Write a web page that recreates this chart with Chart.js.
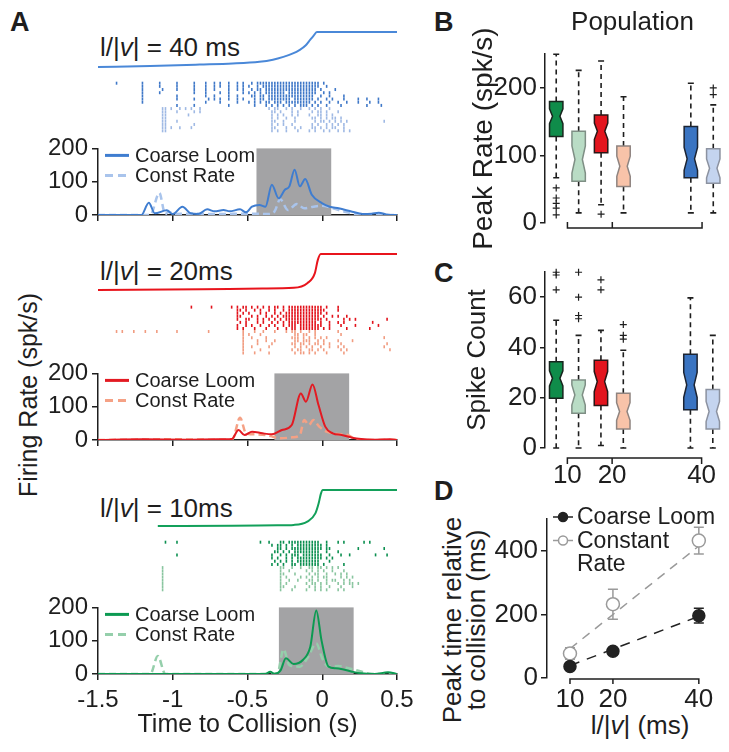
<!DOCTYPE html>
<html>
<head>
<meta charset="utf-8">
<script src="https://cdn.jsdelivr.net/npm/chart.js@4.4.0/dist/chart.umd.min.js"></script>
<style>
  body { margin: 0; background: #fff; }
  #fig { position: relative; width: 729px; height: 752px; overflow: hidden; background: #fff;
         font-family: "Liberation Sans", Arial, Helvetica, sans-serif; color: #1e1e1e; }
  #fig canvas { position: absolute; }
  .lbl { position: absolute; white-space: nowrap; line-height: 1; }
  .panel { font-weight: bold; font-size: 27px; }
  .stim { font-size: 26px; }
  .ytitle { font-size: 25px; transform: translate(-50%, -50%) rotate(-90deg); }
  .ytitle2 { font-size: 26px; line-height: 24px; text-align: center; transform: translate(-50%, -50%) rotate(-90deg); }
  .xtitle { font-size: 26px; transform: translate(-50%, -50%); }
</style>
</head>
<body>
<div id="fig">
  <div class="lbl panel" style="left:10px;top:9px">A</div>
  <div class="lbl panel" style="left:434px;top:9px">B</div>
  <div class="lbl panel" style="left:434px;top:260px">C</div>
  <div class="lbl panel" style="left:434px;top:478px">D</div>
  <div class="lbl stim" style="left:100px;top:34px">l/|<i>v</i>| = 40 ms</div>
  <div class="lbl stim" style="left:100px;top:258px">l/|<i>v</i>| = 20ms</div>
  <div class="lbl stim" style="left:100px;top:495px">l/|<i>v</i>| = 10ms</div>
  <div class="lbl ytitle" style="left:28px;top:395px">Firing Rate (spk/s)</div>
  <div class="lbl ytitle2" style="left:464px;top:620px">Peak time relative<br>to collision (ms)</div>
  <div class="lbl xtitle" style="left:640px;top:725px">l/|<i>v</i>| (ms)</div>
</div>
<script>
// ---------- panel A: stimulus traces (normalised angle vs time, s) ----------
const stim40T = [-1.5, -1.15, -0.82, -0.6, -0.42, -0.33, -0.26, -0.2, -0.15, -0.11, -0.08, -0.06, -0.036, 0.5];
const stim40V = [0, 0.03, 0.07, 0.1, 0.15, 0.21, 0.29, 0.38, 0.49, 0.62, 0.78, 0.88, 1, 1];
const stim20T = [-1.5, -0.8, -0.4, -0.19, -0.1, -0.05, -0.03, -0.01, 0.5];
const stim20V = [0, 0.02, 0.04, 0.06, 0.19, 0.46, 0.83, 1, 1];
const stim10T = [-1.1, -0.6, -0.3, -0.19, -0.1, -0.046, -0.024, -0.009, 0.004, 0.5];
const stim10V = [0, 0.01, 0.02, 0.03, 0.12, 0.35, 0.63, 0.9, 1, 1];

// ---------- panel A: rasters, one string per trial, 20 ms bins from -1.5 s ----------
const RASTER_T0 = -1.5, RASTER_BIN = 0.02;
const raster40Loom = [
  "....x..... ...x.....x .....x.... .x...x..x. x..x..x.x. .x.xxxxxxx xxxxxxxxxx xxxxx.x... .......... ..........",
  ".......... ...x.....x .....x.... .x...x..x. x..x..x.x. x..x.xxxxx xxxxxxxxxx xxxxx..x.. .......... ..........",
  ".......... ...x...... x....x.... .x...x..x. ...x..x.x. .x.xx.xxxx xxxxxxxxxx xxxx.x.... x......... ..........",
  ".......... ...x.....x .......... .x...x.... x..x....x. x.x.x.xxxx xxx.xxxxxx xxxx..x.x. .......... ..........",
  ".......... ...x...... .....x.... .....x..x. ...x..x... .xx.xx.xxx xxxxxxxxxx xxx..x..x. ...x...... ..........",
  ".......... ...x...... .....x.... .x....x.x. x..x..x.x. ..x.xx.xxx xxxxx.xxxx xxx.x..x.x ...x....x. .x...x....",
  ".......... ...x...... .......... .....x.... x.....x... x.x.x.xx.x xx.xxxxxxx xx.x.x..x. .x..x...x. ..x..x....",
  ".......... .......... .....x.... .x........ ...x...... ..x...x.x. x.x.x.x.xx x.x.x..x.. ..x....... .x....x..."
];
const raster40Const = [
  ".......... .......... xx.x..x.x. x..x...... .......... .......x.x x..x.x..x. .x.x.x..x. .......... ..........",
  ".......... .......... xx...x.... .x.x...... .......... ........xx .x...x.x.. ..x.xx.x.. .x........ ..........",
  ".......... .......... xx.......x .......... .......... ........x. x.x..x.x.. .x..xx.x.x .......... ..........",
  ".......... .......... xx........ .......... .......... ........x. x..x..x... ..xx.x.x.x x.x....... ..........",
  ".......... .......... xx...x.... .......... .......... ........xx ..x...x... ...x.xx.x. x.x.x..... .......x..",
  ".......... .......... xx........ .x........ .......... ........x. x.x..x.... ..x.x..x.x .x.x...... ..........",
  ".......... .......... xx.x..x... x......... .......... ........xx ...x..x.x. ..xx.x.x.x x..x...... ..........",
  ".......... .......... xx........ .......... .......... ........x. x..x...x.. .x.x..x.x. .x.x.x.... .........."
];
const raster20Loom = [
  ".......... .......... .......... x......x.. ....x.x.xx .x.x.x.x.x x.x.xxxxxx xxxxxx.x.. .x........ ..........",
  ".......... .......... .......... .......... ......xx.x ..x.x..x.x ..x.xxxxxx xxxxxxx... .x........ ..........",
  ".......... .......... .......... .......... ......x.x. x...x.x..x .x.xxxxxxx xxxxxx.x.. .......... ..........",
  ".......... .......... .......... .......... ......xx.. .x.x..x.x. x.xxxxxxxx xxxxx.x..x .x..x..... ..........",
  ".......... .......... .......... .......... ......x..x x..x.x.x.x .x.xxxxxxx xxxxxx.x.. ...x.x.x.. ........x.",
  ".......... .......... .......... .......... .......x.x ...x.x..x. x.x.xxxxxx xxxx.x..x. .x.x...... ...x......",
  ".......... .......... .......... .......... ......x..x .x..x..x.x ..x.xxx.xx xxxxxx..x. ..x....x.. .....x....",
  ".......... .......... .......... .......... ......x.x. ..x...x... x..x.xx.xx xxxxx.x.x. ....x..... ..x......."
];
const raster20Const = [
  "....x.x... x...x...x. .....x.... ......x... ........x. ..x..x...x ...x.xx.x. .x.x...... .x........ ..........",
  ".......... .......... .......... .......... ........x. x...x..... ......xx.x x..x...... ..x....... ..........",
  ".......... .......... .......... .......... ........x. .x....x... .....xxx.x .x.x.x.x.. .......... .......x..",
  ".......... .......... .......... .......... ........x. ...x..x..x ......xx.x xx..x.x... .x....x... ..........",
  ".......... .......... .......... .......... ........x. ...x....x. .....xx.xx .x.xx.x.x. ..x....... ........x.",
  ".......... .......... .......... .......... ........x. .x.....x.. ......x.x. x.x..x..x. .x.x...... .......x..",
  ".......... .......... .......... .......... ........x. ....x..... .....x.xx. .xx.x.x... ..x.x..... .........x",
  ".......... .......... .......... .......... ........x. ..x....x.. ......x.xx .x.x...x.. ...x...... .........."
];
const raster10Loom = [
  ".......... .......... .x...x.... .......... .......... ....x..x.. .xx.xxxxxx xxxxx..x.. .x.x...... x.x.......",
  ".......... .......... .......... .......... .......... ........x. xx.x.x.xxx xxxxxx.x.. .......... ..........",
  ".......... .......... .......... .......... .......... .......... xx.x.xxxxx xxxxxx.xx. ........x. .......x..",
  ".......... .......... .......... .......... .......... .........x x.x.x.xxxx xxxxx..x.. .x........ ..........",
  ".......... .......... .....x.... .......... .......... ........x. .x.x.xxx.x xxxxxx..x. ..x..x.... ....x...x.",
  ".......... .......... .......... .......... .......... ........x. x..x.x.xxx xxxxxx.x.x .......... ..........",
  ".......... .......... .......... .......... .......... .........x .x.x.x.xxx xxxxx...x. .......... ..........",
  ".......... .......... .......... .......... .......... ........x. x.x..xx.xx xxxxx.x... ...x...... .........."
];
const raster10Const = [
  ".......... .......... x......... .......... .......... .......... .xx..x..x. .xx.xx.x.x .x........ ..........",
  ".......... .......... x......... .......... .......... .......... .x..x..... x.x.x.x..x ...x...... ..........",
  ".......... .......... x......... .......... .......... .......... .xx...x... .x.xx..x.. x.x.x..... ..........",
  ".......... .......... x......... .......... .......... .......... .x.x....x. x.x.x.xx.. ..x.x.x... ..........",
  ".......... .......... x......... .......... .......... .......... .x..x..x.. .xx.x..x.x x..x.x.... ..........",
  ".......... .......... x......... .......... .......... .......... .x.x...... x.xx.x.x.. .x.x.xx.x. ..........",
  ".......... .......... x......... .......... .......... .......... .xx...x... .x.x.x..x. ..x...x... ..........",
  ".......... .......... x......... .......... .......... .......... .x...x.... x..x.x.x.. .x.x...... .........."
];

// ---------- panel A: firing rate (spk/s) vs time to collision (s) ----------
const loom40T  = [-1.5, -1.21, -1.16, -1.12, -1.04, -1.0, -0.935, -0.88, -0.83, -0.77, -0.72, -0.66, -0.62, -0.55, -0.51, -0.47, -0.42, -0.38, -0.337, -0.292, -0.25, -0.22, -0.185, -0.15, -0.114, -0.07, 0.0, 0.05, 0.11, 0.2, 0.27, 0.33, 0.377, 0.44, 0.5];
const loom40R  = [0, 0, 37, 5, 14, 3, 25, 5, 3, 17, 11, 15, 11, 17, 8, 25, 30, 25, 91, 50, 76, 86, 136, 86, 108, 61, 35, 25, 20, 10, 3, 4, 7, 1, 0];
const const40T = [-1.5, -1.15, -1.09, -1.05, -1.03, -0.99, -0.9, -0.7, -0.5, -0.36, -0.32, -0.281, -0.23, -0.17, -0.12, -0.06, 0.0, 0.07, 0.15, 0.22, 0.3, 0.5];
const const40R = [0, 0, 66, 2, 10, 3, 4, 3, 4, 3, 10, 47, 15, 33, 20, 25, 28, 20, 10, 3, 0, 0];
const loom20T  = [-1.5, -1.2, -0.9, -0.7, -0.605, -0.56, -0.52, -0.47, -0.4, -0.337, -0.27, -0.204, -0.143, -0.109, -0.065, -0.025, 0.02, 0.07, 0.13, 0.2, 0.26, 0.35, 0.45, 0.5];
const loom20R  = [0, 2, 1, 2, 3, 30, 15, 25, 20, 17, 30, 45, 140, 115, 167, 105, 40, 20, 15, 7, 3, 1, 2, 0];
const const20T = [-1.5, -1.0, -0.7, -0.6, -0.55, -0.51, -0.45, -0.38, -0.33, -0.29, -0.2, -0.15, -0.12, -0.09, -0.06, -0.02, 0.03, 0.07, 0.12, 0.17, 0.22, 0.3, 0.5];
const const20R = [0, 2, 1, 3, 67, 20, 17, 15, 10, 5, 8, 15, 60, 45, 60, 40, 25, 20, 17, 15, 3, 0, 1];
const loom10T  = [-1.5, -0.5, -0.38, -0.348, -0.32, -0.28, -0.243, -0.192, -0.13, -0.08, -0.04, -0.005, 0.042, 0.09, 0.135, 0.2, 0.26, 0.35, 0.44, 0.5];
const loom10R  = [0, 0, 0, 7, 0, 10, 47, 30, 42, 82, 191, 101, 22, 17, 14, 7, 2, 0, 5, 0];
const const10T = [-1.5, -1.15, -1.1, -1.05, -1.0, -0.5, -0.3, -0.259, -0.22, -0.15, -0.1, -0.04, 0.0, 0.045, 0.11, 0.176, 0.266, 0.33, 0.5];
const const10R = [0, 0, 54, 0, 0, 0, 2, 74, 27, 22, 47, 92, 47, 22, 24, 17, 7, 0, 0];
const windowStart = [-0.44, -0.32, -0.29];
const windowEnd   = [0.06, 0.18, 0.21];

// ---------- panels B / C: population box plots ----------
const lvValues = [10, 20, 40];
const boxGroups = ['Coarse Loom 10', 'Const Rate 10', 'Coarse Loom 20', 'Const Rate 20', 'Coarse Loom 40', 'Const Rate 40'];
const peakLo    = [67, 15, 27, 15, 15, 15];
const peakQ1    = [128, 62, 104, 54, 67, 59];
const peakMed   = [158, 94, 136, 84, 95, 81];
const peakQ3    = [180, 136, 160, 114, 143, 110];
const peakHi    = [250, 226, 240, 187, 207, 175];
const peakNotch = [11, 20, 12, 15, 17, 14];
const peakOut   = [[267, 52, 37, 29, 22, 12], [], [278, 13], [], [], [200, 190]];
const countLo    = [0, 0, 1, 0, 0, 0];
const countQ1    = [19.8, 13.8, 16.9, 7.6, 15.2, 7.6];
const countMed   = [27.7, 21.1, 26.4, 14.5, 25.1, 14.5];
const countQ3    = [34.3, 27, 34.9, 21.8, 37.3, 23.3];
const countHi    = [50.8, 44.8, 46.8, 38.9, 59.7, 44.8];
const countNotch = [3, 4, 4, 3.5, 5, 4];
const countOut   = [[69.9, 68.8, 62.9], [69.9, 60, 52.7, 51.4], [66.9, 62.9], [49.1, 44.8, 43.3], [], []];

// ---------- panel D: peak time relative to collision (ms) ----------
const loomPeak  = [36, 84, 196];
const loomErr   = [8, 10, 23];
const constPeak = [77, 232, 432];
const constErr  = [18, 47, 42];
const loomFit   = [39, 194];
const constFit  = [92, 415];

// ---------- styling ----------
const FONT = '"Liberation Sans", Arial, Helvetica, sans-serif';
const INK = '#1e1e1e';
Chart.defaults.font.family = FONT;
Chart.defaults.color = INK;
Chart.defaults.animation = false;
Chart.defaults.plugins.legend.display = false;
Chart.defaults.plugins.tooltip.enabled = false;

const BLUE = { stim: '#4a88d8', loom: '#3f7dd0', cons: '#a9c4ec', rLoom: '#3f78c8', rCons: '#9fb9e4' };
const RED = { stim: '#e8141c', loom: '#e31a22', cons: '#f5a185', rLoom: '#e2121b', rCons: '#f19c80' };
const GREEN = { stim: '#13a05a', loom: '#0c9a52', cons: '#95cfab', rLoom: '#0b8f50', rCons: '#89c59f' };
const boxFill = ['#0f8c4a', '#b9dcc5', '#e3151e', '#f8c3a9', '#3a74c2', '#c4d4ef'];
const boxEdge = ['#17251d', '#7f8f85', '#2a1616', '#8f8480', '#1c2433', '#8c92a0'];

const fig = document.getElementById('fig');
const zip = (xs, ys) => xs.map((x, i) => ({ x: x, y: ys[i] }));
const axisLine = { display: true, color: INK, width: 1.5 };
const tickGrid = len => ({ display: true, drawOnChartArea: false, drawTicks: true, tickLength: len, color: INK, lineWidth: 1.5 });
const boxPos = boxGroups.map((g, i) => lvValues[Math.floor(i / 2)] + (i % 2 ? 2.5 : -2.5));

function canvasAt(left, top, w, h) {
  const c = document.createElement('canvas');
  c.width = w; c.height = h;
  c.style.left = left + 'px'; c.style.top = top + 'px';
  c.style.width = w + 'px'; c.style.height = h + 'px';
  fig.appendChild(c);
  return c;
}

function rasterPoints(rows, rowOffset) {
  const pts = [];
  rows.forEach((row, r) => {
    const bins = row.replace(/ /g, '');
    for (let i = 0; i < bins.length; i++) {
      if (bins[i] === 'x') pts.push({ x: RASTER_T0 + (i + 0.5) * RASTER_BIN, y: r + rowOffset });
    }
  });
  return pts;
}

// ---------- plugins ----------
const shadeWindow = {
  id: 'shadeWindow',
  beforeDatasetsDraw(chart, args, o) {
    const { ctx, scales: { x, y } } = chart;
    const x0 = x.getPixelForValue(o.from), x1 = x.getPixelForValue(o.to);
    const y0 = y.getPixelForValue(y.max), y1 = y.getPixelForValue(0);
    ctx.save();
    ctx.fillStyle = '#a3a3a5';
    ctx.fillRect(x0, y0, x1 - x0, y1 - y0);
    ctx.restore();
  }
};

const innerLegend = {
  id: 'innerLegend',
  afterDatasetsDraw(chart, args, o) {
    const { ctx, chartArea } = chart;
    ctx.save();
    ctx.font = o.size + 'px ' + FONT;
    ctx.textBaseline = 'middle';
    chart.data.datasets.forEach((ds, i) => {
      const y = chartArea.top + o.top + i * o.row;
      const x = chartArea.left + o.left;
      ctx.strokeStyle = ds.borderColor;
      ctx.lineWidth = 3;
      ctx.setLineDash(ds.borderDash ? [8, 5] : []);
      ctx.beginPath(); ctx.moveTo(x, y); ctx.lineTo(x + o.len, y); ctx.stroke();
      ctx.setLineDash([]);
      ctx.fillStyle = INK;
      ctx.fillText(ds.label, x + o.len + o.gap, y + 1);
    });
    ctx.restore();
  }
};

const notchBoxes = {
  id: 'notchBoxes',
  beforeDatasetsDraw(chart, args, o) {
    const { ctx, scales: { x, y } } = chart;
    const s = o.stats;
    ctx.save();
    s.q1.forEach((q1, i) => {
      const cx = x.getPixelForValue(boxPos[i]);
      const yq1 = y.getPixelForValue(q1), yq3 = y.getPixelForValue(s.q3[i]);
      const ymd = y.getPixelForValue(s.med[i]);
      const yn0 = y.getPixelForValue(s.med[i] - s.notch[i]), yn1 = y.getPixelForValue(s.med[i] + s.notch[i]);
      const yhi = y.getPixelForValue(s.hi[i]), ylo = y.getPixelForValue(s.lo[i]);
      // whiskers
      ctx.strokeStyle = INK; ctx.lineWidth = 1.6; ctx.setLineDash([5, 4]);
      ctx.beginPath();
      ctx.moveTo(cx, yq3); ctx.lineTo(cx, yhi);
      ctx.moveTo(cx, yq1); ctx.lineTo(cx, ylo);
      ctx.stroke();
      ctx.setLineDash([]);
      ctx.beginPath();
      ctx.moveTo(cx - o.cap, yhi); ctx.lineTo(cx + o.cap, yhi);
      ctx.moveTo(cx - o.cap, ylo); ctx.lineTo(cx + o.cap, ylo);
      ctx.stroke();
      // notched box
      const l = cx - o.half, r = cx + o.half;
      ctx.beginPath();
      ctx.moveTo(l, yq1); ctx.lineTo(l, yn0); ctx.lineTo(l + o.inset, ymd); ctx.lineTo(l, yn1); ctx.lineTo(l, yq3);
      ctx.lineTo(r, yq3); ctx.lineTo(r, yn1); ctx.lineTo(r - o.inset, ymd); ctx.lineTo(r, yn0); ctx.lineTo(r, yq1);
      ctx.closePath();
      ctx.fillStyle = boxFill[i]; ctx.fill();
      ctx.strokeStyle = boxEdge[i]; ctx.lineWidth = 1.5; ctx.stroke();
    });
    ctx.restore();
  }
};

const rangeFrame = {
  id: 'rangeFrame',
  afterDraw(chart, args, o) {
    const { ctx, chartArea } = chart;
    const x = chart.scales.x;
    const y0 = chartArea.bottom + o.offset;
    ctx.save();
    ctx.strokeStyle = INK; ctx.lineWidth = 1.5;
    ctx.beginPath();
    ctx.moveTo(x.getPixelForValue(lvValues[0]) - 0.75, y0);
    ctx.lineTo(x.getPixelForValue(lvValues[lvValues.length - 1]) + 0.75, y0);
    lvValues.forEach(v => { const px = x.getPixelForValue(v); ctx.moveTo(px, y0); ctx.lineTo(px, y0 + o.tick); });
    ctx.stroke();
    ctx.restore();
  }
};

const errorBars = {
  id: 'errorBars',
  beforeDatasetsDraw(chart, args, o) {
    const { ctx, scales: { x, y } } = chart;
    ctx.save();
    ctx.lineWidth = 1.5;
    chart.data.datasets.forEach(ds => {
      if (!ds.errors) return;
      ctx.strokeStyle = ds.borderColor;
      ds.data.forEach((p, i) => {
        const px = x.getPixelForValue(p.x);
        const top = y.getPixelForValue(p.y + ds.errors[i]), bot = y.getPixelForValue(p.y - ds.errors[i]);
        ctx.beginPath();
        ctx.moveTo(px, top); ctx.lineTo(px, bot);
        ctx.moveTo(px - o.cap, top); ctx.lineTo(px + o.cap, top);
        ctx.moveTo(px - o.cap, bot); ctx.lineTo(px + o.cap, bot);
        ctx.stroke();
      });
    });
    ctx.restore();
  }
};

const markerLegend = {
  id: 'markerLegend',
  afterDraw(chart, args, o) {
    const { ctx, chartArea } = chart;
    ctx.save();
    ctx.font = o.size + 'px ' + FONT;
    ctx.textBaseline = 'middle';
    let row = 0;
    chart.data.datasets.forEach(ds => {
      if (!ds.legendText) return;
      const y = chartArea.top + o.top + row * o.row;
      const x = chartArea.left + o.left;
      ctx.strokeStyle = ds.borderColor; ctx.lineWidth = 1.5;
      ctx.beginPath(); ctx.moveTo(x, y); ctx.lineTo(x + o.len, y); ctx.stroke();
      ctx.beginPath(); ctx.arc(x + o.len / 2, y, o.radius, 0, Math.PI * 2);
      ctx.fillStyle = ds.backgroundColor; ctx.fill(); ctx.stroke();
      ctx.fillStyle = INK;
      ds.legendText.forEach((t, k) => ctx.fillText(t, x + o.len + o.gap, y + 1 + k * o.row));
      row += ds.legendText.length;
    });
    ctx.restore();
  }
};

// ---------- panel A builders ----------
function stimChart(top, h, T, V, color) {
  new Chart(canvasAt(98, top, 299, h), {
    type: 'line',
    data: { datasets: [{ data: zip(T, V), borderColor: color, borderWidth: 2, pointRadius: 0, cubicInterpolationMode: 'monotone', clip: false }] },
    options: {
      responsive: false, devicePixelRatio: 1,
      layout: { padding: { top: 4, bottom: 4, left: 0, right: 0 } },
      scales: { x: { type: 'linear', min: -1.5, max: 0.5, display: false }, y: { min: 0, max: 1, display: false } }
    }
  });
}

function rasterChart(top, h, loomRows, constRows, pal) {
  const tick = color => ({ pointStyle: 'line', pointRotation: 90, pointRadius: 1.5, pointBorderWidth: 1.6, borderColor: color, pointBorderColor: color, clip: false });
  new Chart(canvasAt(98, top, 299, h), {
    type: 'scatter',
    data: { datasets: [
      Object.assign({ data: rasterPoints(loomRows, 0) }, tick(pal.rLoom)),
      Object.assign({ data: rasterPoints(constRows, loomRows.length) }, tick(pal.rCons))
    ] },
    options: {
      responsive: false, devicePixelRatio: 1,
      layout: { padding: 0 },
      scales: {
        x: { type: 'linear', min: -1.5, max: 0.5, display: false },
        y: { min: -0.5, max: loomRows.length + constRows.length - 0.5, reverse: true, display: false }
      }
    }
  });
}

function rateChart(top, xHeight, loomT, loomR, constT, constR, k, pal, showX) {
  new Chart(canvasAt(0, top, 420, 18 + 67 + xHeight), {
    type: 'line',
    data: { datasets: [
      { label: 'Coarse Loom', data: zip(loomT, loomR), borderColor: pal.loom, borderWidth: 2, pointRadius: 0, cubicInterpolationMode: 'monotone' },
      { label: 'Const Rate', data: zip(constT, constR), borderColor: pal.cons, borderWidth: 2.5, borderDash: [7, 4], pointRadius: 0, cubicInterpolationMode: 'monotone' }
    ] },
    options: {
      responsive: false, devicePixelRatio: 1,
      layout: { padding: { top: 18, right: 23, left: 0, bottom: 0 } },
      scales: {
        x: {
          type: 'linear', min: -1.5, max: 0.5, border: axisLine, grid: tickGrid(6),
          ticks: { display: showX, stepSize: 0.5, font: { size: 24 }, padding: 6, color: INK, callback: v => String(v) },
          title: { display: showX, text: 'Time to Collision (s)', font: { size: 25 }, padding: { top: 0, bottom: 2 }, color: INK },
          afterFit: s => { s.height = xHeight; }
        },
        y: {
          min: 0, max: 200, border: axisLine, grid: tickGrid(6),
          ticks: { stepSize: 100, font: { size: 24 }, padding: 4, color: INK },
          afterFit: s => { s.width = 98; }
        }
      },
      plugins: {
        shadeWindow: { from: windowStart[k], to: windowEnd[k] },
        innerLegend: { top: 7, row: 20, left: 7, len: 24, gap: 6, size: 20 }
      }
    },
    plugins: [shadeWindow, innerLegend]
  });
}

stimChart(28, 43, stim40T, stim40V, BLUE.stim);
rasterChart(76, 62, raster40Loom, raster40Const, BLUE);
rateChart(130, 24, loom40T, loom40R, const40T, const40R, 0, BLUE, false);

stimChart(250, 44, stim20T, stim20V, RED.stim);
rasterChart(300, 60, raster20Loom, raster20Const, RED);
rateChart(355, 24, loom20T, loom20R, const20T, const20R, 1, RED, false);

stimChart(486, 44, stim10T, stim10V, GREEN.stim);
rasterChart(535, 62, raster10Loom, raster10Const, GREEN);
rateChart(589, 68, loom10T, loom10R, const10T, const10R, 2, GREEN, true);

// ---------- panels B and C ----------
function outlierPoints(out) {
  const pts = [];
  out.forEach((vals, i) => vals.forEach(v => pts.push({ x: boxPos[i], y: v })));
  return pts;
}

function boxChart(cfg) {
  new Chart(canvasAt(458, cfg.top, 271, cfg.height), {
    type: 'scatter',
    data: { datasets: [{ data: outlierPoints(cfg.out), pointStyle: 'cross', pointRadius: 3.5, borderColor: INK, pointBorderWidth: 1.2, clip: false }] },
    options: {
      responsive: false, devicePixelRatio: 1,
      layout: { padding: { top: cfg.padTop, right: 9, left: 0, bottom: 0 } },
      scales: {
        x: {
          type: 'linear', min: 5, max: 44,
          border: { display: false }, grid: { display: false, drawTicks: false },
          ticks: { display: cfg.showX, font: { size: 26 }, padding: 12, color: INK },
          afterBuildTicks: s => { s.ticks = lvValues.map(v => ({ value: v })); },
          afterFit: s => { s.height = cfg.xHeight; }
        },
        y: {
          min: 0, max: cfg.max, border: axisLine, grid: tickGrid(5),
          ticks: { stepSize: cfg.step, font: { size: 26 }, padding: 3, color: INK, callback: v => v % cfg.labelStep === 0 ? v : '' },
          title: { display: true, text: cfg.title, font: { size: cfg.titleSize }, padding: { top: cfg.titlePad, bottom: 0 }, color: INK },
          afterFit: s => { s.width = 87; }
        }
      },
      plugins: {
        title: cfg.heading
          ? { display: true, text: cfg.heading, font: { size: 26, weight: 'normal' }, fullSize: false, padding: { top: 7, bottom: 16 }, color: INK }
          : { display: false },
        notchBoxes: { stats: cfg.stats, half: 6.7, inset: 3, cap: 3 },
        rangeFrame: { offset: cfg.frameOffset, tick: cfg.frameTick }
      }
    },
    plugins: [notchBoxes, rangeFrame]
  });
}

boxChart({
  top: 0, height: 254, padTop: 0, xHeight: 31, showX: false, max: 250, step: 50, labelStep: 100,
  title: 'Peak Rate (spk/s)', titleSize: 28, titlePad: 9, heading: 'Population', out: peakOut,
  stats: { lo: peakLo, q1: peakQ1, med: peakMed, q3: peakQ3, hi: peakHi, notch: peakNotch },
  frameOffset: 5, frameTick: -6
});

boxChart({
  top: 250, height: 250, padTop: 22, xHeight: 52, showX: true, max: 70, step: 10, labelStep: 20,
  title: 'Spike Count', titleSize: 26, titlePad: 4, heading: null, out: countOut,
  stats: { lo: countLo, q1: countQ1, med: countMed, q3: countQ3, hi: countHi, notch: countNotch },
  frameOffset: 10, frameTick: 6
});

// ---------- panel D ----------
new Chart(canvasAt(490, 490, 239, 252), {
  type: 'scatter',
  data: { datasets: [
    { label: 'Coarse Loom', legendText: ['Coarse Loom'], data: zip(lvValues, loomPeak), errors: loomErr,
      pointRadius: 6, backgroundColor: '#222222', borderColor: '#222222', pointBorderWidth: 1.5, clip: false },
    { label: 'Constant Rate', legendText: ['Constant', 'Rate'], data: zip(lvValues, constPeak), errors: constErr,
      pointRadius: 6.5, backgroundColor: '#ffffff', borderColor: '#9a9a9a', pointBorderWidth: 1.5, clip: false },
    { data: zip([lvValues[0], lvValues[2]], loomFit), showLine: true, borderColor: '#222222', borderWidth: 1.5, borderDash: [10, 8], pointRadius: 0 },
    { data: zip([lvValues[0], lvValues[2]], constFit), showLine: true, borderColor: '#9a9a9a', borderWidth: 1.5, borderDash: [9, 7], pointRadius: 0 }
  ] },
  options: {
    responsive: false, devicePixelRatio: 1,
    layout: { padding: { top: 29, right: 13, left: 0, bottom: 0 } },
    scales: {
      x: {
        type: 'linear', min: 4.65, max: 44,
        border: { display: false }, grid: { display: false, drawTicks: false },
        ticks: { font: { size: 26 }, padding: 6, color: INK },
        afterBuildTicks: s => { s.ticks = lvValues.map(v => ({ value: v })); },
        afterFit: s => { s.height = 64; }
      },
      y: {
        min: 0, max: 500, border: axisLine, grid: tickGrid(6),
        ticks: { stepSize: 200, font: { size: 26 }, padding: 3, color: INK },
        afterBuildTicks: s => { s.ticks = s.ticks.filter(t => t.value % 200 === 0); },
        afterFit: s => { s.width = 57; }
      }
    },
    plugins: {
      errorBars: { cap: 5 },
      rangeFrame: { offset: 1, tick: 5 },
      markerLegend: { top: -2, row: 23.5, left: 6, len: 20, gap: 4, radius: 4.5, size: 23 }
    }
  },
  plugins: [errorBars, rangeFrame, markerLegend]
});
</script>
</body>
</html>
